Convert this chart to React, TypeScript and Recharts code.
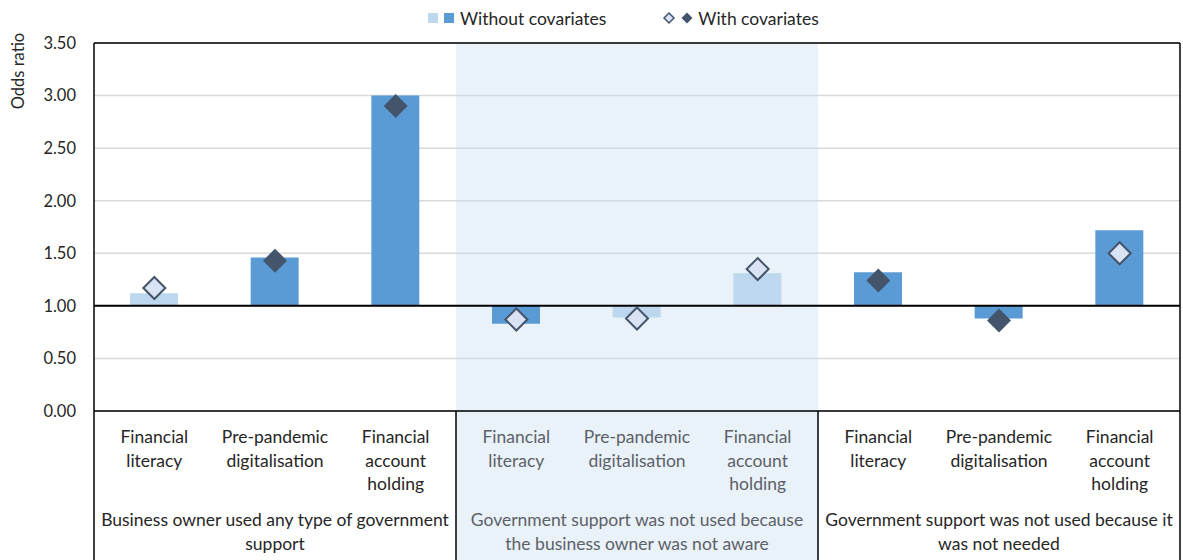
import React from "react";
import {
  ComposedChart,
  Bar,
  Line,
  XAxis,
  YAxis,
  CartesianGrid,
  ReferenceLine,
  ReferenceArea,
  Legend,
  Cell,
} from "recharts";

// Chart size / plot box
const W = 1183;
const H = 560;
const Y_AXIS_W = 94;
const MR = 3;
const MT = 7;
const X_AXIS_H = 149;

const TEXT = "#262626";
const TEXT_SHADED = "#5c6168";
const LIGHT_BAR = "#BDD7EE";
const DARK_BAR = "#5B9BD5";
const DIAMOND_DARK = "#44546A";
const DIAMOND_LIGHT = "#DAE3F3";
const LABEL_SIZE = 17.5;

const categoryIds = ["c0", "c1", "c2", "c3", "c4", "c5", "c6", "c7", "c8"];
const categoryLabels = [
  ["Financial", "literacy"],
  ["Pre-pandemic", "digitalisation"],
  ["Financial", "account", "holding"],
  ["Financial", "literacy"],
  ["Pre-pandemic", "digitalisation"],
  ["Financial", "account", "holding"],
  ["Financial", "literacy"],
  ["Pre-pandemic", "digitalisation"],
  ["Financial", "account", "holding"],
];
const groupLabels = [
  ["Business owner used any type of government", "support"],
  ["Government support was not used because", "the business owner was not aware"],
  ["Government support was not used because it", "was not needed"],
];

const withoutCovariates = [1.12, 1.46, 3.0, 0.83, 0.89, 1.31, 1.32, 0.88, 1.72];
const withCovariates = [1.17, 1.43, 2.9, 0.87, 0.88, 1.35, 1.24, 0.86, 1.5];
// significant estimates are drawn dark / filled
const withoutSignificant = [false, true, true, true, false, false, true, true, true];
const withSignificant = [false, true, true, false, false, false, true, true, false];

const yTicks = [0, 0.5, 1, 1.5, 2, 2.5, 3, 3.5];

const data = categoryIds.map((id, i) => ({
  id,
  without: withoutCovariates[i],
  withCov: withCovariates[i],
}));

const BAND = (W - Y_AXIS_W - MR) / categoryIds.length;

function CategoryTick(props: any) {
  const { x, y, index } = props;
  const lines = categoryLabels[index] || [];
  const half = BAND / 2;
  const group = Math.floor(index / 3);
  // middle group sits under the shaded panel
  const fill = group === 1 ? TEXT_SHADED : TEXT;
  return (
    <g>
      {lines.map((t, i) => (
        <text
          key={i}
          x={x}
          y={y + 32 + i * 23.5}
          textAnchor="middle"
          fill={fill}
          fontSize={LABEL_SIZE}
        >
          {t}
        </text>
      ))}
      {index % 3 === 1 &&
        groupLabels[group].map((t, i) => (
          <text
            key={"g" + i}
            x={x}
            y={y + 115 + i * 23.5}
            textAnchor="middle"
            fill={fill}
            fontSize={LABEL_SIZE}
          >
            {t}
          </text>
        ))}
      {index % 3 === 0 && (
        <line x1={x - half} y1={y} x2={x - half} y2={H} stroke="#000" strokeWidth={1.5} />
      )}
      {index === categoryIds.length - 1 && (
        <line x1={x + half} y1={y} x2={x + half} y2={H} stroke="#000" strokeWidth={1.5} />
      )}
    </g>
  );
}

function Diamond(props: any) {
  const { cx, cy, index } = props;
  if (cx == null || cy == null) return null;
  const filled = withSignificant[index];
  const r = filled ? 12 : 11;
  return (
    <path
      key={index}
      d={`M${cx},${cy - r} L${cx + r},${cy} L${cx},${cy + r} L${cx - r},${cy} Z`}
      fill={filled ? DIAMOND_DARK : DIAMOND_LIGHT}
      stroke={DIAMOND_DARK}
      strokeWidth={filled ? 0 : 2}
    />
  );
}

function LegendContent() {
  const sq = (c: string) => (
    <span style={{ display: "inline-block", width: 10, height: 10, background: c, marginRight: 6 }} />
  );
  return (
    <div
      style={{
        height: 36,
        display: "flex",
        alignItems: "center",
        paddingLeft: 428,
        fontSize: LABEL_SIZE,
        color: TEXT,
        boxSizing: "border-box",
      }}
    >
      {sq(LIGHT_BAR)}
      {sq(DARK_BAR)}
      <span style={{ marginRight: 56 }}>Without covariates</span>
      <svg width={32} height={14} style={{ marginRight: 4 }}>
        <path d="M7,2 L12,7 L7,12 L2,7 Z" fill={DIAMOND_LIGHT} stroke={DIAMOND_DARK} strokeWidth={1.5} />
        <path d="M25,1.5 L30.5,7 L25,12.5 L19.5,7 Z" fill={DIAMOND_DARK} />
      </svg>
      <span>With covariates</span>
    </div>
  );
}

function OddsLabel() {
  return (
    <text
      x={24}
      y={71}
      transform="rotate(-90 24 71)"
      textAnchor="middle"
      fill={TEXT}
      fontSize={16.5}
    >
      Odds ratio
    </text>
  );
}

export default function App() {
  return (
    <div
      style={{
        position: "absolute",
        left: 0,
        top: 0,
        fontFamily: "Lato, 'Open Sans', sans-serif",
        background: "#fff",
      }}
    >
      <ComposedChart
        width={W}
        height={H}
        data={data}
        margin={{ top: MT, right: MR, bottom: 0, left: 0 }}
        barSize={48}
      >
        <Legend
          verticalAlign="top"
          align="left"
          content={() => <LegendContent />}
          wrapperStyle={{ top: 0, left: 0, width: W, height: 36 }}
        />
        <CartesianGrid vertical={false} stroke="#D9D9D9" strokeWidth={1.5} />
        <XAxis
          dataKey="id"
          type="category"
          interval={0}
          tickLine={false}
          axisLine={false}
          tickSize={0}
          tickMargin={0}
          height={X_AXIS_H}
          tick={<CategoryTick />}
        />
        <YAxis
          type="number"
          domain={[0, 3.5]}
          ticks={yTicks}
          width={Y_AXIS_W}
          tickLine={false}
          axisLine={false}
          tickSize={0}
          tickMargin={18}
          tickFormatter={(v: number) => v.toFixed(2)}
          tick={{ fill: TEXT, fontSize: 16.5 }}
          label={<OddsLabel />}
        />
        <Bar dataKey={(d: any) => [1, d.without]} isAnimationActive={false} name="Without covariates">
          {data.map((d, i) => (
            <Cell key={d.id} fill={withoutSignificant[i] ? DARK_BAR : LIGHT_BAR} />
          ))}
        </Bar>
        <ReferenceLine y={1} stroke="#000" strokeWidth={2} />
        <Line
          dataKey="withCov"
          stroke="none"
          dot={(p: any) => <Diamond {...p} />}
          activeDot={false}
          isAnimationActive={false}
          name="With covariates"
        />
        <ReferenceArea
          x1="c3"
          x2="c5"
          y1={-1.42}
          y2={3.5}
          ifOverflow="visible"
          fill="#C5D9F0"
          fillOpacity={0.38}
          stroke="none"
        />
        {/* plot frame */}
        <ReferenceLine y={3.5} stroke="#000" strokeWidth={1.5} ifOverflow="visible" />
        <ReferenceLine y={0} stroke="#000" strokeWidth={1.5} ifOverflow="visible" />
        <ReferenceLine x="c0" position="start" stroke="#000" strokeWidth={1.5} ifOverflow="visible" />
        <ReferenceLine x="c8" position="end" stroke="#000" strokeWidth={1.5} ifOverflow="visible" />
      </ComposedChart>
    </div>
  );
}
